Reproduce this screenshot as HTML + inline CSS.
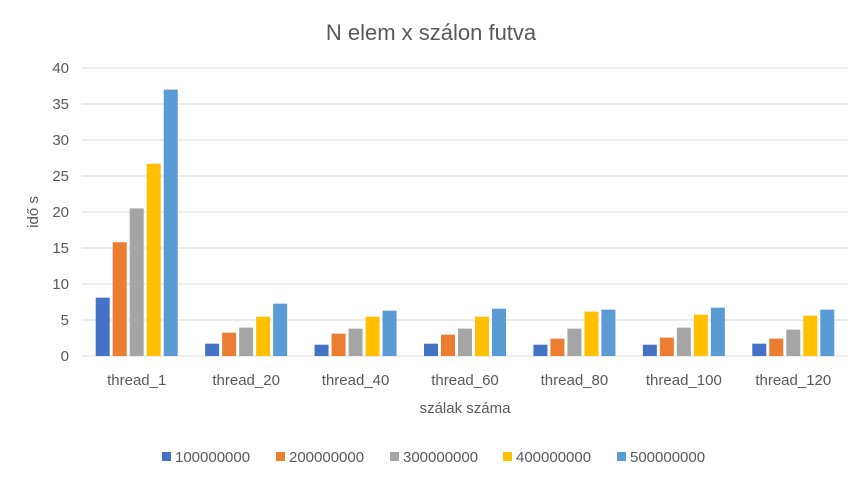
<!DOCTYPE html>
<html><head><meta charset="utf-8"><style>
body{margin:0;background:#fff;font-family:"Liberation Sans",sans-serif}
</style></head><body>
<svg width="862" height="485" xmlns="http://www.w3.org/2000/svg">
<rect width="862" height="485" fill="#fff"/>
<text x="431" y="40" text-anchor="middle" font-size="22" fill="#595959">N elem x szálon futva</text>
<text transform="translate(38,212) rotate(-90)" text-anchor="middle" font-size="15" fill="#595959">idő s</text>
<text x="465" y="413" text-anchor="middle" font-size="15" fill="#595959">szálak száma</text>
<g id="grid"></g><g id="bars"></g><g id="xl"></g><g id="legend"></g>
</svg>
<script>
const categories=["thread_1","thread_20","thread_40","thread_60","thread_80","thread_100","thread_120"];
const seriesNames=["100000000","200000000","300000000","400000000","500000000"];
const s1=[8.1,1.71,1.57,1.71,1.57,1.57,1.71];
const s2=[15.8,3.24,3.1,2.96,2.41,2.55,2.41];
const s3=[20.5,3.94,3.8,3.8,3.8,3.94,3.66];
const s4=[26.7,5.46,5.46,5.46,6.16,5.74,5.6];
const s5=[37,7.27,6.3,6.57,6.44,6.71,6.44];
const yTicks=[0,5,10,15,20,25,30,35,40];
const colors=["#4472c4","#ed7d31","#a5a5a5","#ffc000","#5b9bd5"];
const series=[s1,s2,s3,s4,s5];
const NS="http://www.w3.org/2000/svg";
const x0=82,x1=848,y0=356,ppu=7.2;
const y=v=>y0-v*ppu;
const cw=(x1-x0)/categories.length;
function mk(t,a,p){const e=document.createElementNS(NS,t);for(const k in a)e.setAttribute(k,a[k]);p.appendChild(e);return e;}
const g=document.getElementById('grid');
yTicks.forEach(t=>{
 const l=mk('line',{x1:x0,x2:x1,y1:y(t),y2:y(t),stroke:'#d9d9d9','stroke-width':1},g);
 
 
 const tx=mk('text',{x:69,y:y(t)+5,'text-anchor':'end','font-size':15,fill:'#595959'},g);
 tx.textContent=t;
 
 
});
const b=document.getElementById('bars');
const bw=14,step=17;
categories.forEach((c,i)=>{
 const cx=x0+cw*(i+0.5);
 series.forEach((s,j)=>{
  const bx=cx+(j-2)*step-bw/2;
  const r=mk('rect',{x:bx,y:y(s[i]),width:bw,height:s[i]*ppu,fill:colors[j]},b);
  
  
 });
 const t=mk('text',{x:cx,y:385,'text-anchor':'middle','font-size':15,fill:'#595959'},document.getElementById('xl'));
 t.textContent=c;
 
 
});
const lg=document.getElementById('legend');
const lx=[162,276,390,503,617];
seriesNames.forEach((n,j)=>{
 const r=mk('rect',{x:lx[j],y:452,width:9,height:9,fill:colors[j]},lg);
 
 
 const t=mk('text',{x:lx[j]+13,y:462,'font-size':15,fill:'#595959'},lg);
 t.textContent=n;
 
 
});
</script>
</body></html>
